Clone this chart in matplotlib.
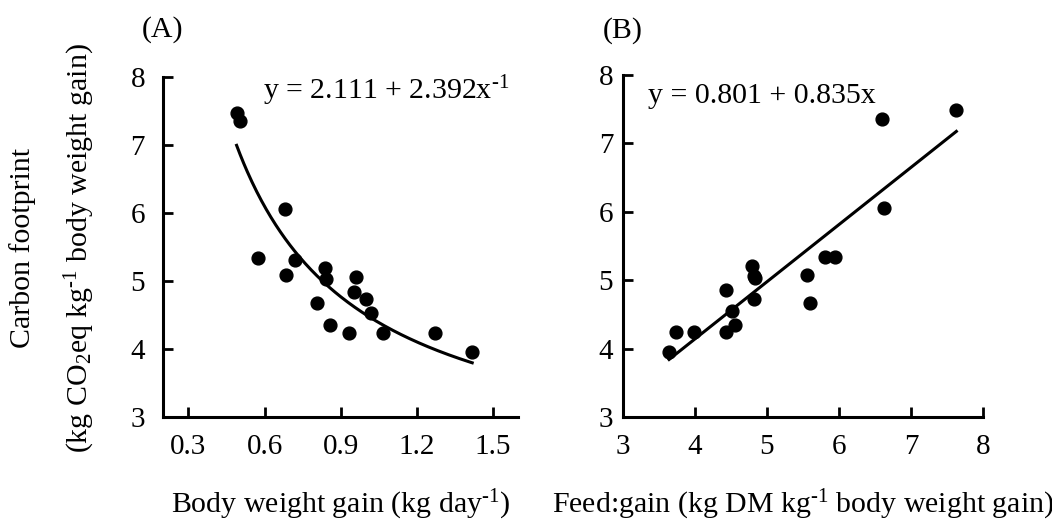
import numpy as np
import matplotlib
matplotlib.use("Agg")
import matplotlib.pyplot as plt

plt.rcParams['font.family'] = ['Liberation Serif', 'DejaVu Serif']
plt.rcParams['mathtext.fontset'] = 'custom'
plt.rcParams['mathtext.rm'] = 'Liberation Serif'
plt.rcParams['mathtext.it'] = 'Liberation Serif:italic'

# (A) body weight gain vs carbon footprint
bwg = [0.490, 0.503, 0.682, 0.575, 0.721, 0.686, 0.840, 0.842, 0.959,
       0.951, 0.999, 1.019, 0.806, 0.858, 0.933, 1.066, 1.274, 1.419]
cf_a = [7.47, 7.35, 6.06, 5.33, 5.31, 5.08, 5.19, 5.03, 5.06,
        4.84, 4.73, 4.53, 4.67, 4.35, 4.24, 4.23, 4.24, 3.95]

# (B) feed:gain vs carbon footprint
fg = [3.64, 3.73, 3.98, 4.43, 4.43, 4.51, 4.56, 4.79, 4.82,
      4.84, 4.82, 5.56, 5.60, 5.80, 5.94, 6.60, 6.62, 7.63]
cf_b = [3.95, 4.24, 4.24, 4.85, 4.24, 4.55, 4.35, 5.20, 5.06,
        5.03, 4.73, 5.08, 4.67, 5.33, 5.33, 7.35, 6.06, 7.48]

# fitted equations
a_int, a_coef = 2.111, 2.392
b_int, b_coef = 0.801, 0.835

xticks_a = [0.3, 0.6, 0.9, 1.2, 1.5]
yticks = [3, 4, 5, 6, 7, 8]
xticks_b = [3, 4, 5, 6, 7, 8]

fs = 21.5
tfs = 21

fig = plt.figure(figsize=(10.52, 5.25), dpi=100)
ax1 = fig.add_axes([0.155, 0.2057, 0.3375, 0.648])
ax2 = fig.add_axes([0.5922, 0.2057, 0.3422, 0.652])


def style(ax, ypad):
    for s in ['top', 'right']:
        ax.spines[s].set_visible(False)
    for s in ['left', 'bottom']:
        ax.spines[s].set_linewidth(2.2)
    ax.tick_params(direction='in', length=7, width=2, labelsize=tfs)
    ax.tick_params(axis='y', pad=ypad)
    ax.tick_params(axis='x', pad=12)


ax1.scatter(bwg, cf_a, s=85, color='black', zorder=3)
xa = np.linspace(min(bwg), max(bwg), 200)
ax1.plot(xa, a_int + a_coef / xa, color='black', lw=2.2)
ax1.set_xlim(0.2, 1.6)
ax1.set_ylim(3, 8)
ax1.set_xticks(xticks_a)
ax1.set_xticklabels([f"{t:.1f}" for t in xticks_a])
ax1.set_yticks(yticks)
style(ax1, 13)
ax1.set_xlabel(r"Body weight gain (kg day$^{\text{-1}}$)", fontsize=fs, labelpad=20)
ax1.text(0.0, 1.138, "(A)", transform=ax1.transAxes, ha='center', va='center', fontsize=fs)
ax1.text(0.628, 1.01, r"y = 2.111 + 2.392x$^{\text{-1}}$", transform=ax1.transAxes,
         ha='center', va='top', fontsize=fs)

ax2.scatter(fg, cf_b, s=85, color='black', zorder=3)
xb = np.array([min(fg), max(fg)])
ax2.plot(xb, b_int + b_coef * xb, color='black', lw=2.2)
ax2.set_xlim(3, 8)
ax2.set_ylim(3, 8)
ax2.set_xticks(xticks_b)
ax2.set_yticks(yticks)
style(ax2, 7)
ax2.set_xlabel(r"Feed:gain (kg DM kg$^{\text{-1}}$ body weight gain)", fontsize=fs, labelpad=20)
ax2.text(0.0, 1.13, "(B)", transform=ax2.transAxes, ha='center', va='center', fontsize=fs)
ax2.text(0.387, 0.976, "y = 0.801 + 0.835x", transform=ax2.transAxes,
         ha='center', va='top', fontsize=fs)

fig.text(23 / 1052, 0.528, "Carbon footprint", rotation=90, ha='center', va='center', fontsize=fs)
fig.text(80 / 1052, 0.528, r"(kg CO$_2$eq kg$^{\text{-1}}$ body weight gain)", rotation=90,
         ha='center', va='center', fontsize=fs)

plt.savefig("out.png", dpi=100)
